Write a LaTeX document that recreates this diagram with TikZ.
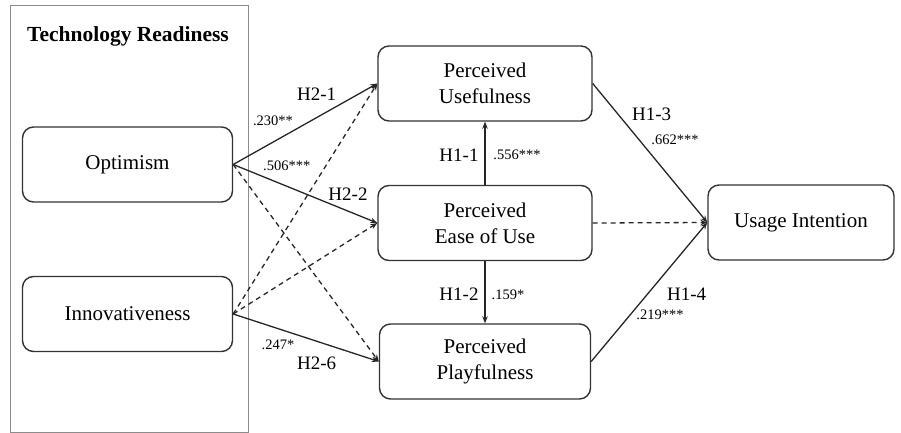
\documentclass[tikz,border=0pt]{standalone}
\usepackage{fontspec}
\setmainfont{Liberation Serif}
\usetikzlibrary{arrows.meta}
\begin{document}
\begin{tikzpicture}[x=1pt,y=-1pt,
  box/.style={draw=black!80, line width=1.4pt, rounded corners=11pt, align=center,
    font=\fontsize{21}{26}\selectfont, inner sep=0pt, minimum width=210pt, minimum height=75pt},
  conn/.style={line width=1.3pt, draw=black!85, -{Stealth[length=7pt,width=5.5pt]}},
  dconn/.style={conn, dash pattern=on 5pt off 4pt},
  hlab/.style={font=\fontsize{19}{22}\selectfont, inner sep=0pt},
  clab/.style={font=\fontsize{14.5}{16}\selectfont, inner sep=0pt}]
\useasboundingbox (0,0) rectangle (901,433);
\node[draw=black!45, line width=1pt, minimum width=238pt, minimum height=426pt, inner sep=0pt] (tr) at (129,219) {};
\node[font=\fontsize{21.5}{26}\selectfont\bfseries] (trt) at (128,36) {Technology Readiness};
\node[box] (opt) at (127.5,164.5) {Optimism};
\node[box] (inn) at (127.5,314) {Innovativeness};
\node[box, minimum width=214pt] (pu) at (485,83.5) {Perceived\\Usefulness};
\node[box, minimum width=214pt] (peou) at (485,223) {Perceived\\Ease of Use};
\node[box, minimum width=211pt] (pp) at (485,361.5) {Perceived\\Playfulness};
\node[box, minimum width=186pt] (ui) at (801,222.5) {Usage Intention};
\draw[conn] (opt.east) -- (pu.west);
\draw[conn] (opt.east) -- (peou.west);
\draw[dconn] (opt.east) -- (pp.west);
\draw[dconn] (inn.east) -- (pu.west);
\draw[dconn] (inn.east) -- (peou.west);
\draw[conn] (inn.east) -- (pp.west);
\draw[conn] (peou.north) -- (pu.south);
\draw[conn] (peou.south) -- (pp.south |- pp.north);
\draw[conn] (pu.east) -- (ui.west);
\draw[dconn] (peou.east) -- (ui.west);
\draw[conn] (pp.east) -- (ui.west);
\node[hlab] (h21) at (316.7,94) {H2-1};
\node[clab] (c21) at (273,121) {.230**};
\node[clab] (c22) at (286.7,166) {.506***};
\node[hlab] (h22) at (348,194) {H2-2};
\node[clab] (c26) at (278,345) {.247*};
\node[hlab] (h26) at (316.7,363) {H2-6};
\node[hlab] (h11) at (459,155) {H1-1};
\node[clab] (c11) at (517,155) {.556***};
\node[hlab] (h12) at (459,294) {H1-2};
\node[clab] (c12) at (508,295) {.159*};
\node[hlab] (h13) at (651.7,114) {H1-3};
\node[clab] (c13) at (675,140) {.662***};
\node[hlab] (h14) at (686.7,294) {H1-4};
\node[clab] (c14) at (660,315) {.219***};
\end{tikzpicture}
\end{document}
